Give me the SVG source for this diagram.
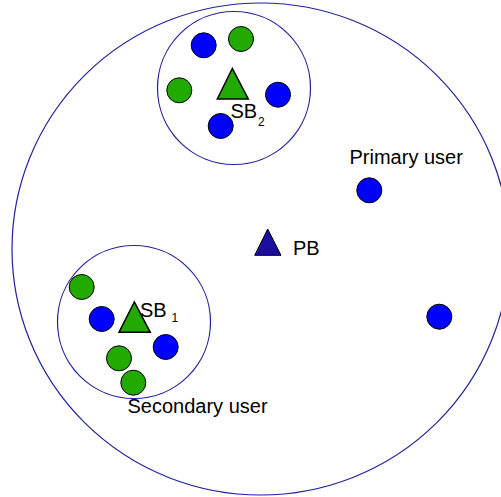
<svg xmlns="http://www.w3.org/2000/svg" width="501" height="497" viewBox="0 0 501 497">
  <style>
    .cell { fill: none; stroke: #22229a; stroke-width: 1.2; }
    .pu { fill: #0000ff; stroke: #000; stroke-width: 1; }
    .su { fill: #22aa00; stroke: #000; stroke-width: 1; }
    .sb { fill: #22aa00; stroke: #000; stroke-width: 1.5; stroke-linejoin: miter; }
    .pb { fill: #1c0ca0; stroke: #000; stroke-width: 1; }
    text { font-family: "Liberation Sans", Arial, sans-serif; font-size: 20px; fill: #000; }
    .sub { font-size: 12px; }
  </style>
  <rect width="501" height="497" fill="#fff"/>

  <!-- coverage areas -->
  <g id="cells">
    <ellipse id="primary-cell" class="cell" cx="260.7" cy="249" rx="248.7" ry="246"/>
    <circle id="sb2-cell" class="cell" cx="234" cy="88" r="76.5"/>
    <circle id="sb1-cell" class="cell" cx="134" cy="322" r="76.5"/>
  </g>

  <g id="connectors"></g>

  <!-- primary base station -->
  <g id="pb">
    <polygon class="pb" points="267.7,229 254.7,255.3 281,255.3"/>
    <text x="293" y="255">PB</text>
  </g>

  <!-- primary users -->
  <g id="primary-users">
    <circle class="pu" cx="369.3" cy="190.3" r="12.5"/>
    <circle class="pu" cx="439.3" cy="316.7" r="12.5"/>
    <text x="349.5" y="164.3">Primary user</text>
  </g>

  <!-- secondary base station 2 with its users -->
  <g id="sb2">
    <circle class="pu" cx="203.7" cy="45.3" r="12.5"/>
    <circle class="su" cx="241" cy="39" r="12.5"/>
    <circle class="su" cx="179.3" cy="90.3" r="12.5"/>
    <circle class="pu" cx="278" cy="94.7" r="12.5"/>
    <circle class="pu" cx="220.7" cy="126" r="12.5"/>
    <polygon class="sb" points="232.3,68.5 217.3,99 248.3,99"/>
    <text x="230.5" y="118.3">SB<tspan class="sub" x="258" y="125.7">2</tspan></text>
  </g>

  <!-- secondary base station 1 with its users -->
  <g id="sb1">
    <circle class="su" cx="81.7" cy="287" r="12.5"/>
    <circle class="pu" cx="101.7" cy="319" r="12.5"/>
    <circle class="pu" cx="165.7" cy="347" r="12.5"/>
    <circle class="su" cx="119" cy="358.3" r="12.5"/>
    <circle class="su" cx="133.3" cy="382.7" r="12.5"/>
    <polygon class="sb" points="134.3,302 119,332.3 150.3,332.3"/>
    <text x="140" y="317.3">SB<tspan class="sub" x="171.5" y="322.3">1</tspan></text>
    <text x="127.5" y="413.3">Secondary user</text>
  </g>
</svg>
